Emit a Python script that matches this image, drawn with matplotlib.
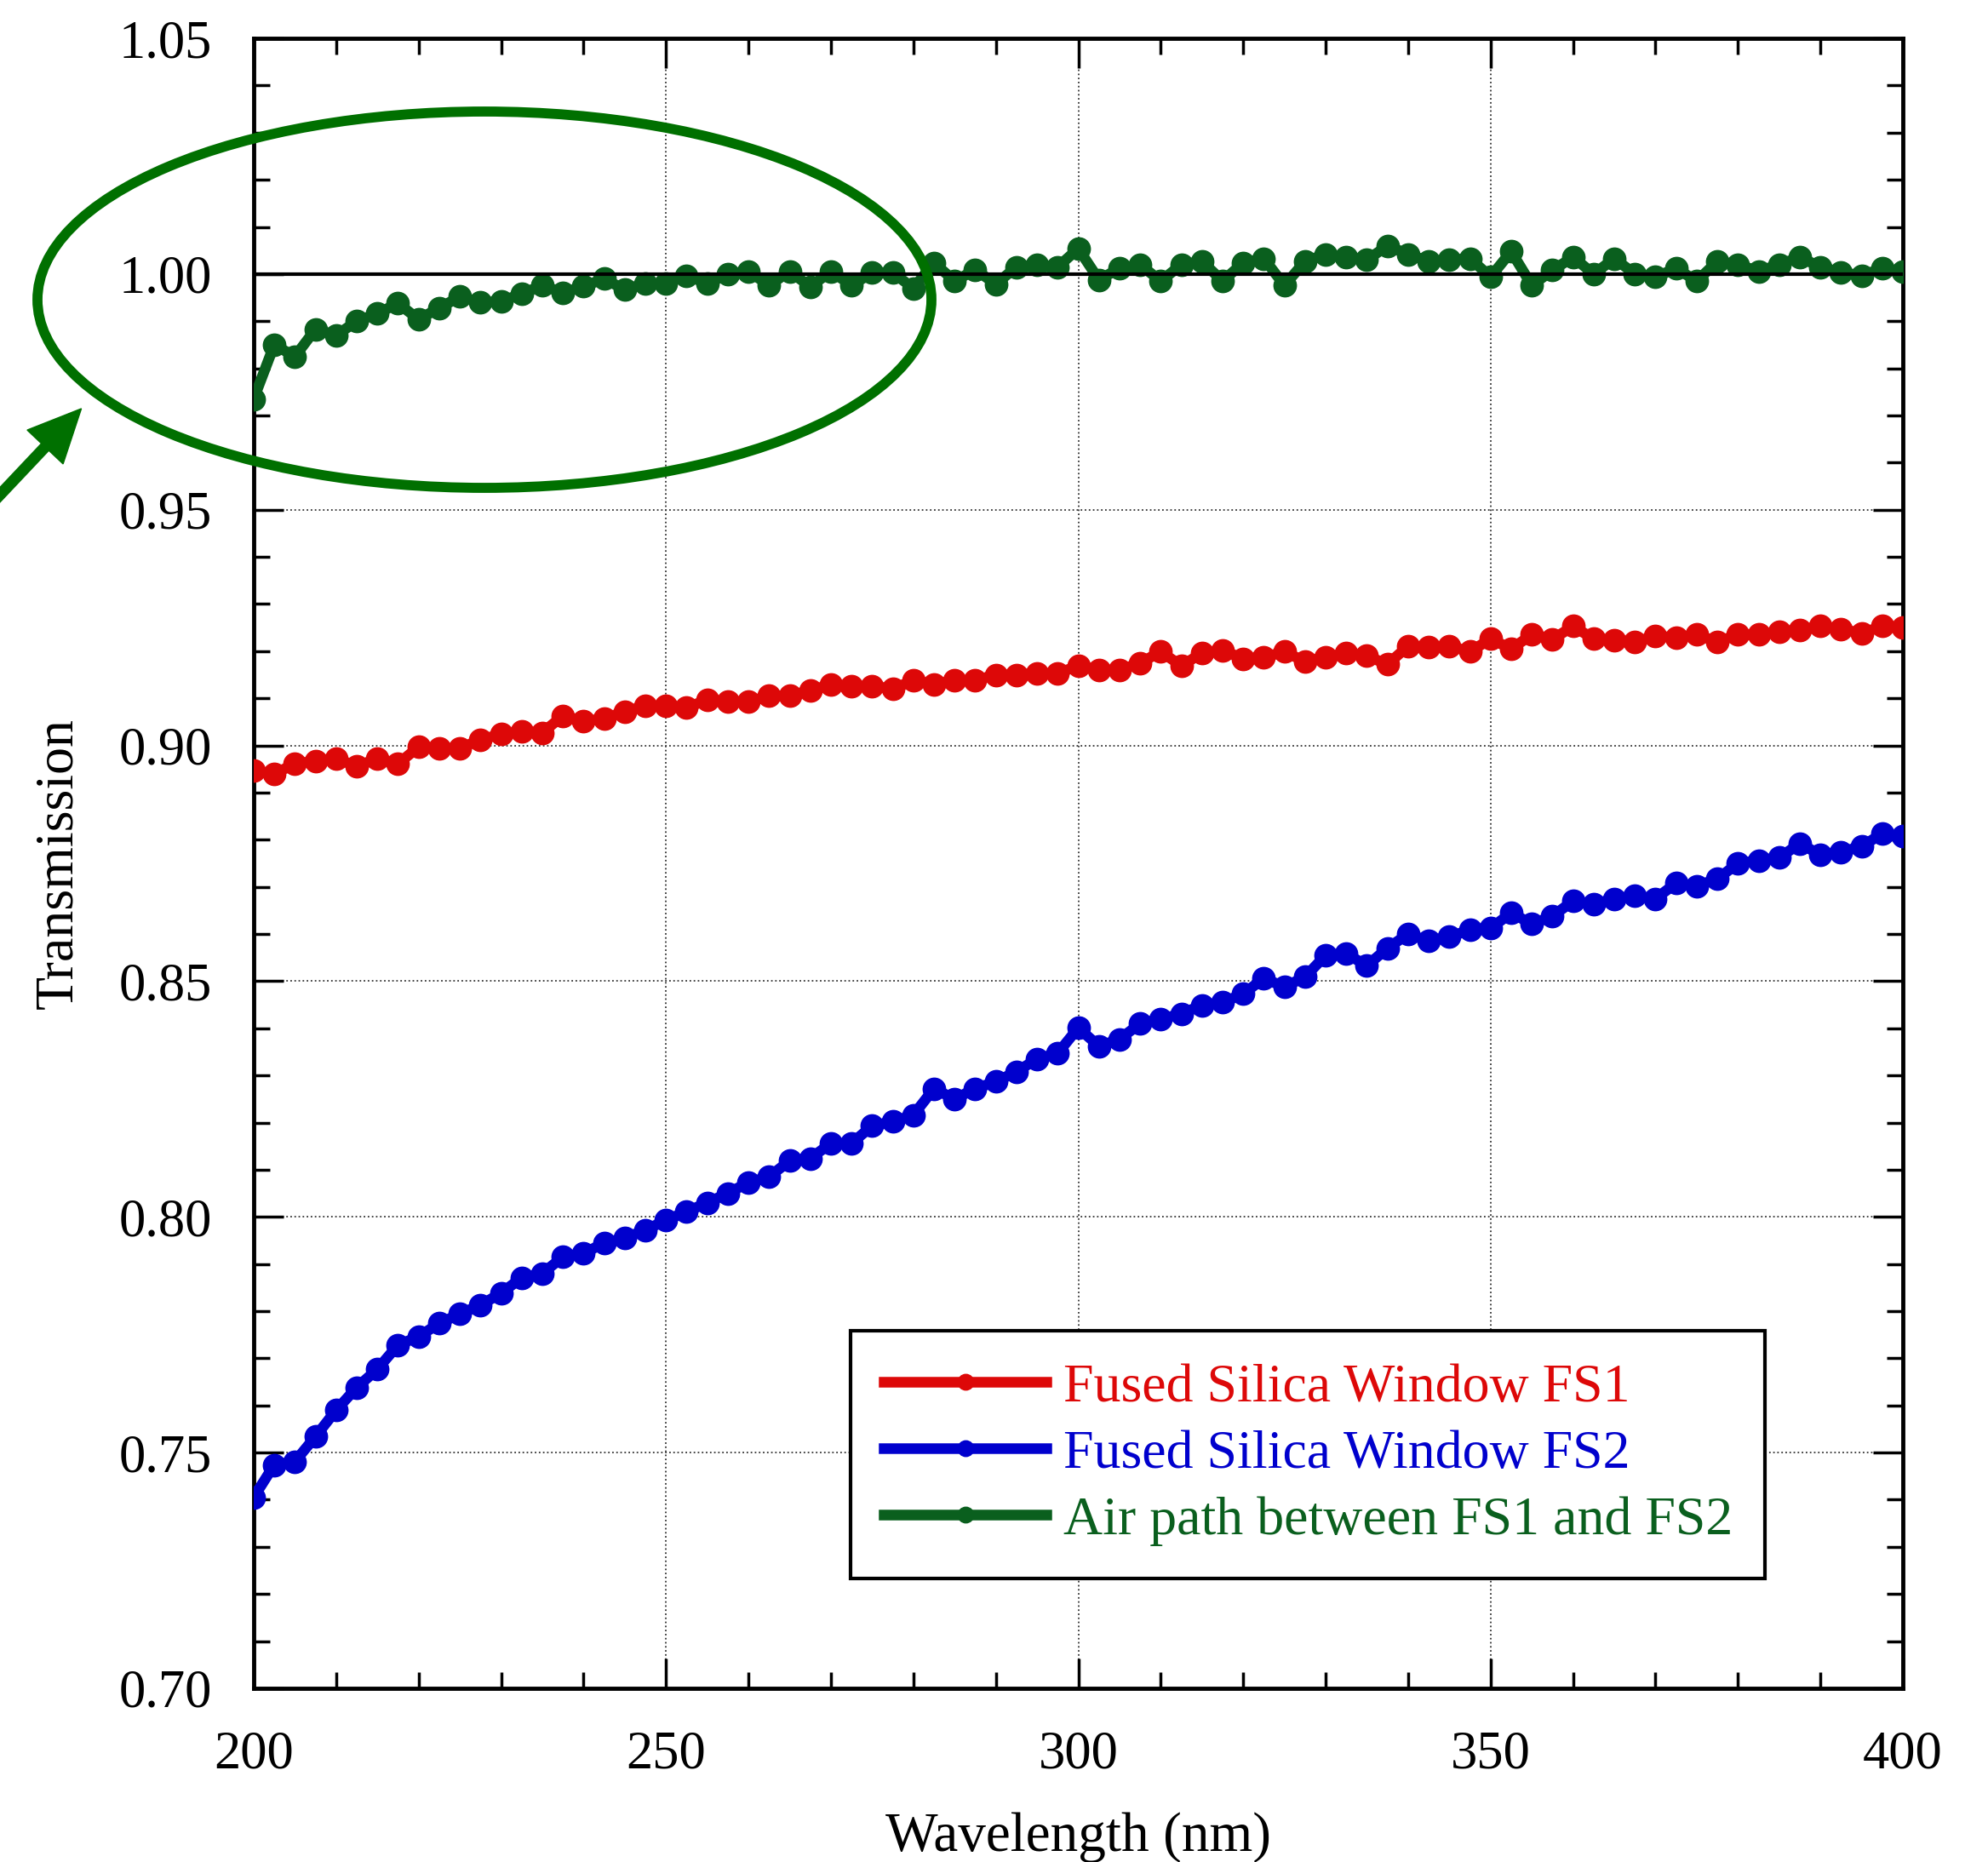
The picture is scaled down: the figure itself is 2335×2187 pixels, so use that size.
import numpy as np
import matplotlib
matplotlib.use('Agg')
import matplotlib.pyplot as plt
from matplotlib.patches import Ellipse, FancyArrow
from matplotlib.transforms import IdentityTransform
from matplotlib.ticker import MultipleLocator, FormatStrFormatter

plt.rcParams['font.family'] = ['Liberation Serif', 'DejaVu Serif']

# sampling grid of the spectra (nm)
wavelength = np.linspace(200, 400, 81)

fs1 = [0.8946, 0.8940, 0.8961, 0.8967, 0.8973, 0.8955, 0.8973, 0.8961, 0.8997, 0.8994,
       0.8994, 0.9012, 0.9024, 0.9030, 0.9027, 0.9063, 0.9051, 0.9057, 0.9072, 0.9084,
       0.9084, 0.9081, 0.9096, 0.9093, 0.9093, 0.9105, 0.9105, 0.9117, 0.9129, 0.9126,
       0.9126, 0.9120, 0.9138, 0.9129, 0.9138, 0.9138, 0.9150, 0.9150, 0.9153, 0.9153,
       0.9169, 0.9160, 0.9160, 0.9175, 0.9199, 0.9169, 0.9196, 0.9202, 0.9184, 0.9187,
       0.9199, 0.9178, 0.9187, 0.9196, 0.9190, 0.9172, 0.9211, 0.9208, 0.9211, 0.9199,
       0.9226, 0.9205, 0.9235, 0.9225, 0.9253, 0.9226, 0.9223, 0.9220, 0.9232, 0.9229,
       0.9235, 0.9220, 0.9235, 0.9235, 0.9241, 0.9244, 0.9253, 0.9247, 0.9238, 0.9253,
       0.9250]

fs2 = [0.7405, 0.7474, 0.7481, 0.7534, 0.7590, 0.7638, 0.7677, 0.7728, 0.7746, 0.7774,
       0.7794, 0.7813, 0.7838, 0.7871, 0.7880, 0.7915, 0.7923, 0.7944, 0.7955, 0.7972,
       0.7993, 0.8011, 0.8030, 0.8050, 0.8073, 0.8085, 0.8119, 0.8124, 0.8156, 0.8156,
       0.8193, 0.8202, 0.8216, 0.8272, 0.8250, 0.8272, 0.8287, 0.8308, 0.8335, 0.8347,
       0.8401, 0.8362, 0.8377, 0.8410, 0.8419, 0.8431, 0.8449, 0.8455, 0.8473, 0.8506,
       0.8488, 0.8509, 0.8555, 0.8558, 0.8533, 0.8570, 0.8600, 0.8585, 0.8594, 0.8609,
       0.8612, 0.8645, 0.8621, 0.8638, 0.8670, 0.8663, 0.8675, 0.8681, 0.8675, 0.8708,
       0.8702, 0.8717, 0.8750, 0.8756, 0.8762, 0.8792, 0.8768, 0.8774, 0.8786, 0.8813,
       0.8807]

air = [0.9735, 0.9850, 0.9825, 0.9883, 0.9870, 0.9900, 0.9916, 0.9938, 0.9904, 0.9928,
       0.9952, 0.9940, 0.9942, 0.9958, 0.9976, 0.9960, 0.9974, 0.9990, 0.9967, 0.9980,
       0.9980, 0.9997, 0.9980, 1.0000, 1.0006, 0.9976, 1.0006, 0.9973, 1.0006, 0.9976,
       1.0003, 1.0003, 0.9970, 1.0024, 0.9985, 1.0009, 0.9979, 1.0015, 1.0020, 1.0015,
       1.0054, 0.9988, 1.0012, 1.0020, 0.9985, 1.0020, 1.0027, 0.9985, 1.0024, 1.0033,
       0.9976, 1.0027, 1.0042, 1.0036, 1.0030, 1.0060, 1.0042, 1.0027, 1.0030, 1.0033,
       0.9994, 1.0048, 0.9976, 1.0008, 1.0036, 1.0000, 1.0033, 1.0000, 0.9994, 1.0012,
       0.9985, 1.0027, 1.0020, 1.0006, 1.0020, 1.0036, 1.0015, 1.0003, 0.9997, 1.0012,
       1.0006]

labels = ['Fused Silica Window FS1', 'Fused Silica Window FS2', 'Air path between FS1 and FS2']
colors = ['#DD0808', '#0000CD', '#0A5F1E']

fig = plt.figure(figsize=(23.35, 21.87), dpi=100)
ax = fig.add_axes([0.1276, 0.0933, 0.8296, 0.8861])

for y, lab, c in zip([fs1, fs2, air], labels, colors):
    ax.plot(wavelength, y, '-o', color=c, lw=9, ms=19, label=lab, zorder=3)

ax.axhline(1.0, color='black', lw=3, zorder=4)

ax.set_xlim(200, 400)
ax.set_ylim(0.70, 1.05)
ax.xaxis.set_major_locator(MultipleLocator(50))
ax.xaxis.set_minor_locator(MultipleLocator(10))
ax.yaxis.set_major_locator(MultipleLocator(0.05))
ax.yaxis.set_minor_locator(MultipleLocator(0.01))
ax.yaxis.set_major_formatter(FormatStrFormatter('%.2f'))
ax.grid(True, which='major', linestyle=':', color='#333333', lw=1.3, zorder=1)

ax.tick_params(which='both', direction='in', top=True, right=True, width=2.5, labelsize=45)
ax.tick_params(which='major', length=25)
ax.tick_params(which='minor', length=14)
ax.tick_params(axis='y', pad=35)
ax.tick_params(axis='x', pad=36)
for s in ax.spines.values():
    s.set_linewidth(3.5)

ax.set_xlabel('Wavelength (nm)', fontsize=47, labelpad=27)
ax.set_ylabel('Transmission', fontsize=46, labelpad=30)

leg = ax.legend(loc='lower right', bbox_to_anchor=(0.9164, 0.0666), borderaxespad=0,
                fontsize=46, handlelength=3.0, handletextpad=0.3, labelspacing=0.3,
                fancybox=False, framealpha=1, edgecolor='black', borderpad=0.6,
                markerscale=0.7)
leg.get_frame().set_linewidth(3)
for t, c in zip(leg.get_texts(), colors):
    t.set_color(c)

# highlight ellipse and arrow (figure pixel coordinates)
H = 2187
ell = Ellipse((569, H - 352), 1050, 442, angle=0, fill=False, edgecolor='#007000',
              lw=8.5, transform=IdentityTransform())
fig.add_artist(ell)
arr = FancyArrow(-15, H - 597, 68, 72, width=12, head_width=58, head_length=62,
                 length_includes_head=False, color='#007000', transform=IdentityTransform())
fig.add_artist(arr)

fig.savefig('out.png', dpi=100)
